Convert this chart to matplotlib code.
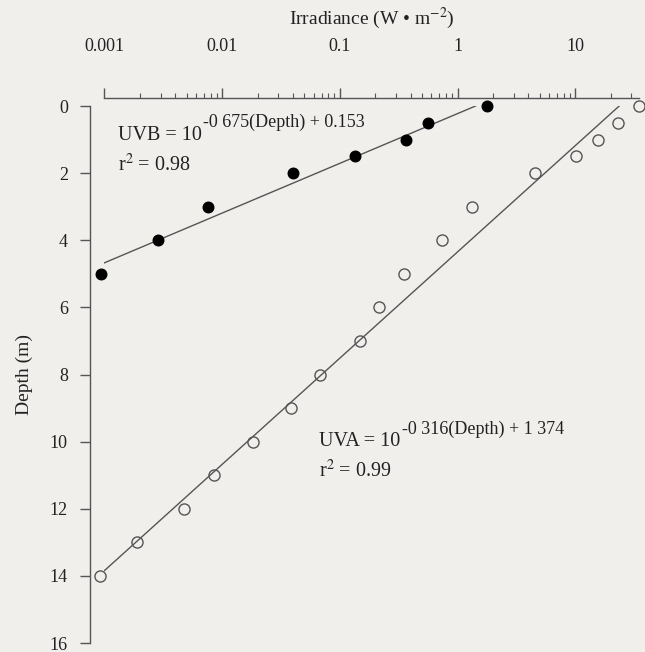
import numpy as np
import matplotlib.pyplot as plt
from matplotlib.ticker import FixedLocator, LogLocator, NullFormatter

plt.rcParams['font.family'] = ['Liberation Serif', 'DejaVu Serif']
plt.rcParams['mathtext.fontset'] = 'stix'

# UVB (filled) and UVA (open) measurements
uvb_depth = [0, 0.5, 1, 1.5, 2, 3, 4, 5]
uvb = [1.78, 0.56, 0.365, 0.135, 0.040, 0.0076, 0.00285, 0.00094]
uva_depth = [0, 0.5, 1, 1.5, 2, 3, 4, 5, 6, 7, 8, 9, 10, 11, 12, 13, 14]
uva = [34.8, 23.0, 15.7, 10.1, 4.55, 1.32, 0.735, 0.353, 0.214, 0.147,
       0.068, 0.0385, 0.0182, 0.00853, 0.00474, 0.00188, 0.00092]

# regression: log10(I) = slope * depth + intercept
uvb_fit = (-0.675, 0.153)
uva_fit = (-0.316, 1.374)

xticks = [0.001, 0.01, 0.1, 1, 10]
xticklabels = ['0.001', '0.01', '0.1', '1', '10']
yticks = [0, 2, 4, 6, 8, 10, 12, 14, 16]

bg = '#f1efec'
ink = '#222222'
gray = '#555555'

fig = plt.figure(figsize=(6.45, 6.52), dpi=100, facecolor=bg)
ax = fig.add_axes([0.162, 0.0138, 0.829, 0.8236], facecolor=bg)


def fit_line(fit, xmin=0.001):
    slope, icpt = fit
    d_end = (np.log10(xmin) - icpt) / slope
    d = np.linspace(0, d_end, 50)
    return 10 ** (slope * d + icpt), d


def eq_text(x, y, base, sup):
    # base text plus a large raised exponent, like the original print
    t = ax.text(x, y, base, fontsize=14.5, color=ink, va='baseline')
    ax.annotate(sup, xy=(1, 0), xycoords=t, xytext=(1, 9.5),
                textcoords='offset points', fontsize=13, color=ink,
                va='bottom', ha='left')


for fit in (uvb_fit, uva_fit):
    lx, ly = fit_line(fit)
    ax.plot(lx, ly, color=gray, lw=1.0, zorder=2)

ax.plot(uvb, uvb_depth, 'o', ms=7.6, color='black', zorder=3, clip_on=False)
ax.plot(uva, uva_depth, 'o', ms=8, mfc='none', mec=gray, mew=1.0,
        zorder=3, clip_on=False)

ax.set_xscale('log')
ax.set_xlim(0.001, 35)
ax.set_ylim(16, 0)

ax.xaxis.tick_top()
ax.xaxis.set_label_position('top')
ax.xaxis.set_major_locator(FixedLocator(xticks))
ax.set_xticklabels(xticklabels)
ax.xaxis.set_minor_locator(LogLocator(base=10, subs=np.arange(2, 10), numticks=20))
ax.xaxis.set_minor_formatter(NullFormatter())
ax.set_yticks(yticks)

for s in ('right', 'bottom'):
    ax.spines[s].set_visible(False)
ax.spines['top'].set_position(('outward', 6))
ax.spines['left'].set_position(('outward', 10.4))
for s in ('top', 'left'):
    ax.spines[s].set_color(gray)
    ax.spines[s].set_linewidth(1.0)

ax.tick_params(axis='x', which='major', direction='out', length=7, width=1,
               color=gray, pad=24, labelsize=13, labelcolor=ink)
ax.tick_params(axis='x', which='minor', direction='out', length=3.5, width=0.8,
               color=gray)
ax.tick_params(axis='y', direction='out', length=7, width=1, color=gray,
               pad=9, labelsize=13, labelcolor=ink)

ax.set_xlabel('Irradiance (W \u2022 m$^{-2}$)', fontsize=14, color=ink, labelpad=10)
ax.set_ylabel('Depth (m)', fontsize=14, color=ink, labelpad=12)

eq_text(0.0013, 1.0, 'UVB = 10', '-0 675(Depth) + 0.153')
ax.text(0.0013, 1.93, r'r$^{2}$ = 0.98', fontsize=14.5, color=ink, va='baseline')
eq_text(0.0665, 10.14, 'UVA = 10', '-0 316(Depth) + 1 374')
ax.text(0.0665, 11.07, r'r$^{2}$ = 0.99', fontsize=14.5, color=ink, va='baseline')

fig.savefig('out.png', dpi=100, facecolor=bg)
